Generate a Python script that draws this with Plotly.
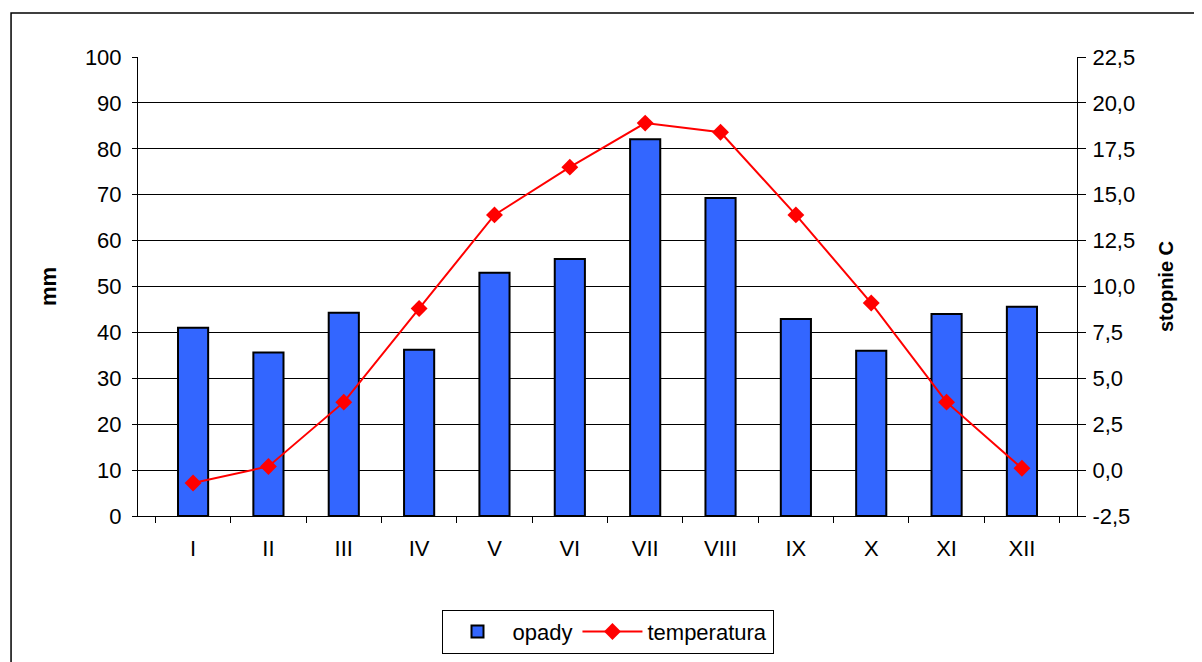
import plotly.graph_objects as go

months = ["I", "II", "III", "IV", "V", "VI", "VII", "VIII", "IX", "X", "XI", "XII"]
opady = [41.0, 35.6, 44.3, 36.2, 53.0, 56.0, 82.1, 69.3, 42.9, 36.0, 44.0, 45.6]
temperatura = [-0.7, 0.2, 3.7, 8.8, 13.9, 16.5, 18.9, 18.4, 13.9, 9.1, 3.7, 0.1]
temp_ticks = [-2.5, 0.0, 2.5, 5.0, 7.5, 10.0, 12.5, 15.0, 17.5, 20.0, 22.5]
temp_labels = ["-2,5", "0,0", "2,5", "5,0", "7,5", "10,0", "12,5", "15,0", "17,5", "20,0", "22,5"]

FONT = "Liberation Sans, Arial, sans-serif"

fig = go.Figure()
fig.add_trace(go.Bar(
    x=months, y=opady, name="opady",
    marker=dict(color="#3366FF", line=dict(color="black", width=2)),
    width=0.4, yaxis="y",
))
fig.add_trace(go.Scatter(
    x=months, y=temperatura, name="temperatura", mode="lines+markers",
    line=dict(color="#FF0000", width=2),
    marker=dict(symbol="diamond", size=13, color="#FF0000"),
    yaxis="y2",
))

fig.update_layout(
    width=1194, height=654,
    margin=dict(l=130, r=125, t=49, b=146, autoexpand=False),
    paper_bgcolor="white", plot_bgcolor="white",
    separators=", ",
    font=dict(family=FONT, size=22, color="black"),
    showlegend=True,
    legend=dict(
        orientation="h", x=0.5, xanchor="center", y=-0.252, yanchor="middle",
        bordercolor="black", borderwidth=1, font=dict(size=22),
        itemwidth=60,
    ),
    xaxis=dict(
        type="category", showline=True, linecolor="black", linewidth=1,
        ticks="outside", tickson="boundaries", ticklen=6, tickcolor="black",
        showgrid=False, ticklabelstandoff=13, automargin=False,
    ),
    yaxis=dict(
        range=[0, 100], dtick=10, showline=True, linecolor="black", linewidth=1,
        ticks="outside", ticklen=5, tickcolor="black",
        showgrid=True, gridcolor="black", gridwidth=1, zeroline=False,
        title=dict(text="<b>mm</b>", font=dict(size=22), standoff=22),
        ticklabelstandoff=6, automargin=False,
    ),
    yaxis2=dict(
        range=[-2.5, 22.5], tickmode="array", tickvals=temp_ticks, ticktext=temp_labels,
        overlaying="y", side="right", showline=True, linecolor="black", linewidth=1,
        ticks="outside", ticklen=8, tickcolor="black", showgrid=False, zeroline=False,
        title=dict(text="<b>stopnie C</b>", font=dict(size=20), standoff=24),
        ticklabelstandoff=2, automargin=False,
    ),
    shapes=[dict(
        type="rect", xref="paper", yref="paper",
        x0=-0.1352, y0=-0.5, x1=1.3, y1=1.0959,
        line=dict(color="black", width=1.5), fillcolor="rgba(0,0,0,0)", layer="below",
    )],
)

fig.write_html("out.html")
